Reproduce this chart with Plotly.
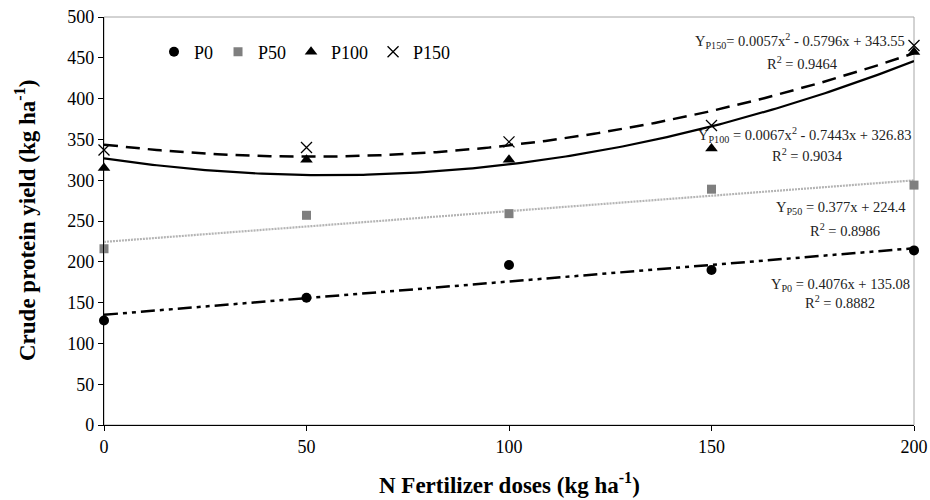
import numpy as np
import plotly.graph_objects as go

# ---- data ----
doses = [0, 50, 100, 150, 200]
p0 = [128, 156, 196, 190, 214]
p50 = [216, 257, 259, 289, 294]
p100 = [315, 325, 325, 339, 457]
p150 = [337, 340, 347, 367, 465]

# regression coefficients (highest power first) as printed on the chart
coef_p0 = [0.4076, 135.08]
coef_p50 = [0.377, 224.4]
coef_p100 = [0.0067, -0.7443, 326.83]
coef_p150 = [0.0057, -0.5796, 343.55]

eq_texts = [
    "Y<sub>P150</sub>= 0.0057x<sup>2</sup> - 0.5796x + 343.55",
    "R<sup>2</sup> = 0.9464",
    "Y<sub>P100</sub> = 0.0067x<sup>2</sup> - 0.7443x + 326.83",
    "R<sup>2</sup> = 0.9034",
    "Y<sub>P50</sub> = 0.377x + 224.4",
    "R<sup>2</sup> = 0.8986",
    "Y<sub>P0</sub> = 0.4076x + 135.08",
    "R<sup>2</sup> = 0.8882",
]
x_title = "<b>N Fertilizer doses (kg ha<sup>-1</sup>)</b>"
y_title = "<b>Crude protein yield (kg ha<sup>-1</sup>)</b>"

FONT = "Liberation Serif, Times New Roman, serif"

xs = np.linspace(0, 200, 201)
fig = go.Figure()

# trend lines
fig.add_trace(go.Scatter(x=xs, y=np.polyval(coef_p0, xs), mode="lines",
                         line=dict(color="black", width=2.5, dash="14px,5px,4px,5px,4px,5px"),
                         showlegend=False, hoverinfo="skip"))
fig.add_trace(go.Scatter(x=xs, y=np.polyval(coef_p50, xs), mode="lines",
                         line=dict(color="#b4b4b4", width=2.2, dash="2px,1px"),
                         showlegend=False, hoverinfo="skip"))
fig.add_trace(go.Scatter(x=xs, y=np.polyval(coef_p100, xs), mode="lines",
                         line=dict(color="black", width=2.2),
                         showlegend=False, hoverinfo="skip"))
fig.add_trace(go.Scatter(x=xs, y=np.polyval(coef_p150, xs), mode="lines",
                         line=dict(color="black", width=2.5, dash="14px,8px"),
                         showlegend=False, hoverinfo="skip"))

# data markers
fig.add_trace(go.Scatter(x=doses, y=p0, mode="markers", name="P0", cliponaxis=False,
                         marker=dict(symbol="circle", size=10, color="black")))
fig.add_trace(go.Scatter(x=doses, y=p50, mode="markers", name="P50", cliponaxis=False,
                         marker=dict(symbol="square", size=9, color="#7f7f7f")))
fig.add_trace(go.Scatter(x=doses, y=p100, mode="markers", name="P100", cliponaxis=False,
                         marker=dict(symbol="triangle-up", size=11, color="black")))
fig.add_trace(go.Scatter(x=doses, y=p150, mode="markers", name="P150", cliponaxis=False,
                         marker=dict(symbol="x-thin-open", size=11, color="black",
                                     line=dict(color="black", width=1.3))))

FW, FH = 930, 500
L, R, T, B = 104, 914, 17, 425
W, H = R - L, B - T


def px(x):
    return (x - L) / W


def py(y):
    return (B - y) / H


ann_pos = [
    (907, 41, "right"), (802, 63, "center"),
    (913, 135, "right"), (807, 155, "center"),
    (908, 208, "right"), (845, 230, "center"),
    (912, 285, "right"), (840, 302, "center"),
]
for txt, (ax, ay, anc) in zip(eq_texts, ann_pos):
    fig.add_annotation(x=px(ax), y=py(ay), xref="paper", yref="paper", text=txt,
                       showarrow=False, xanchor=anc, yanchor="middle",
                       font=dict(family=FONT, size=14.5, color="#222"))

# axis titles
fig.add_annotation(x=px(509), y=py(483), xref="paper", yref="paper", text=x_title,
                   showarrow=False, xanchor="center", yanchor="middle",
                   font=dict(family=FONT, size=23, color="black"))
fig.add_annotation(x=px(25), y=py(221), xref="paper", yref="paper", text=y_title,
                   showarrow=False, xanchor="center", yanchor="middle", textangle=-90,
                   font=dict(family=FONT, size=23, color="black"))

# gray top/right frame
fig.add_shape(type="rect", xref="paper", yref="paper", x0=0, x1=1, y0=0, y1=1,
              line=dict(color="#a6a6a6", width=1), layer="below")

fig.update_layout(
    width=FW, height=FH,
    margin=dict(l=L, r=FW - R, t=T, b=FH - B, autoexpand=False),
    paper_bgcolor="white", plot_bgcolor="white",
    font=dict(family=FONT, size=18, color="black"),
    legend=dict(orientation="h", x=px(154), y=py(52), xanchor="left", yanchor="middle",
                bgcolor="rgba(0,0,0,0)", font=dict(family=FONT, size=18),
                itemwidth=30),
    xaxis=dict(range=[0, 200], tickvals=doses, ticks="outside", ticklen=5,
               tickcolor="black", showline=True, linecolor="black", linewidth=1.2,
               showgrid=False, zeroline=False, automargin=False,
               ticklabeloverflow="allow",
               tickfont=dict(family=FONT, size=18)),
    yaxis=dict(range=[0, 500], dtick=50, ticks="outside", ticklen=5,
               tickcolor="black", showline=True, linecolor="black", linewidth=1.2,
               showgrid=False, zeroline=False, automargin=False,
               ticklabeloverflow="allow",
               tickfont=dict(family=FONT, size=18)),
)

fig.write_html(
    "out.html",
    config={"displayModeBar": False},
    post_script="document.body.style.margin='0';document.body.style.overflow='hidden';",
)
